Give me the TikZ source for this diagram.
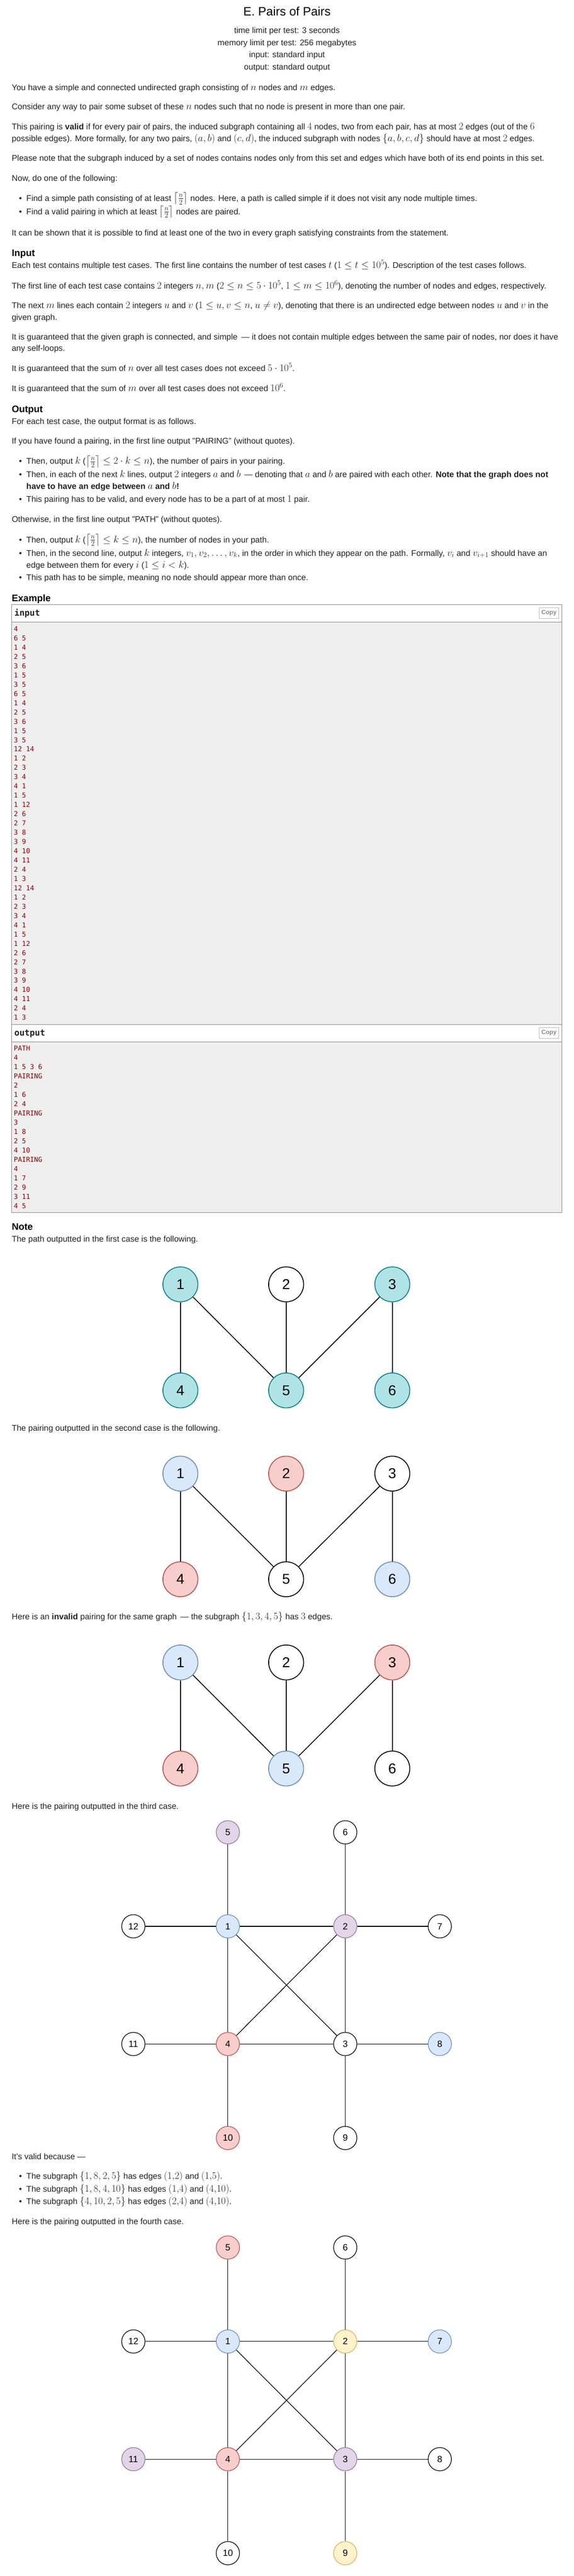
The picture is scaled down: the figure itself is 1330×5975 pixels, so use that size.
\RequirePackage{fix-cm}
\documentclass[tikz,border=0pt]{standalone}
\usepackage{amsmath}
\usepackage{amssymb}
\usepackage[no-math]{fontspec}
\setmainfont{Liberation Sans}[Scale=0.83]
\setmonofont{DejaVu Sans Mono}
\definecolor{ink}{HTML}{222222}
\definecolor{sample}{HTML}{8B0000}
\definecolor{boxline}{HTML}{888888}
\definecolor{boxfill}{HTML}{EFEFEF}
\definecolor{copyline}{HTML}{BBBBBB}
\definecolor{copytext}{HTML}{888888}
\definecolor{tealfill}{HTML}{B0E3E6}
\definecolor{tealline}{HTML}{0E8088}
\definecolor{bluefill}{HTML}{DAE8FC}
\definecolor{blueline}{HTML}{6C8EBF}
\definecolor{redfill}{HTML}{F8CECC}
\definecolor{redline}{HTML}{B85450}
\definecolor{purplefill}{HTML}{E1D5E7}
\definecolor{purpleline}{HTML}{9673A6}
\definecolor{yellowfill}{HTML}{FFF2CC}
\definecolor{yellowline}{HTML}{D6B656}
\tikzset{txt/.style = {anchor = base west, inner sep = 0, text = ink, font = \fontsize{23.1}{27}\selectfont}}
\tikzset{hdr/.style = {anchor = base, inner sep = 0, text = ink, font = \fontsize{23.1}{27}\selectfont}}
\tikzset{ttl/.style = {anchor = base, inner sep = 0, text = black, font = \fontsize{34}{40}\selectfont}}
\tikzset{sect/.style = {anchor = base west, inner sep = 0, text = black, font = \bfseries\fontsize{26.5}{30}\selectfont}}
\tikzset{mono/.style = {anchor = base west, inner sep = 0, text = sample, font = \ttfamily\fontsize{15.6}{21.5}\selectfont}}
\tikzset{monohead/.style = {anchor = base west, inner sep = 0, text = ink, font = \ttfamily\bfseries\fontsize{19.8}{24}\selectfont}}
\tikzset{copybtn/.style = {draw = copyline, line width = 1, text = copytext, inner sep = 0, minimum width = 46, minimum height = 25, font = \bfseries\fontsize{16.9}{20}\selectfont}}
\tikzset{bigvtx/.style = {circle, draw = black, fill = white, line width = 2, minimum size = 81, inner sep = 0, font = \fontsize{39.8}{40}\selectfont}}
\tikzset{smallvtx/.style = {circle, draw = black, fill = white, line width = 1.5, minimum size = 54, inner sep = 0, font = \fontsize{25.3}{26}\selectfont}}
\tikzset{bigedge/.style = {line width = 2}}
\tikzset{smalledge/.style = {line width = 1.5}}
\tikzset{pteal/.style = {fill = tealfill, draw = tealline}}
\tikzset{pblue/.style = {fill = bluefill, draw = blueline}}
\tikzset{pred/.style = {fill = redfill, draw = redline}}
\tikzset{ppurple/.style = {fill = purplefill, draw = purpleline}}
\tikzset{pyellow/.style = {fill = yellowfill, draw = yellowline}}

\begin{document}
\begin{tikzpicture}[x = 1pt, y = -1pt]
    \fill [white] (0, 0) rectangle (1330, 5975);
    \useasboundingbox (0, 0) rectangle (1330, 5975);

    % header
    \node [ttl] (title) at (665, 37) {E. Pairs of Pairs};
    \node [hdr] (tlim) at (665, 76.5) {time limit per test: 3 seconds};
    \node [hdr] (mlim) at (665, 105.5) {memory limit per test: 256 megabytes};
    \node [hdr] (inp) at (665, 133.5) {input: standard input};
    \node [hdr] (outp) at (665, 161.5) {output: standard output};

    % statement
    \node [txt] (s1) at (27, 209.5) {You have a simple and connected undirected graph consisting of $n$ nodes and $m$ edges.};
    \node [txt] (s2) at (27, 254.5) {Consider any way to pair some subset of these $n$ nodes such that no node is present in more than one pair.};
    \node [txt] (s3) at (27, 300.5) {This pairing is \textbf{valid} if for every pair of pairs, the induced subgraph containing all $4$ nodes, two from each pair, has at most $2$ edges (out of the $6$};
    \node [txt] (s4) at (27, 327.5) {possible edges). More formally, for any two pairs, $(a,b)$ and $(c,d)$, the induced subgraph with nodes $\{a,b,c,d\}$ should have at most $2$ edges.};
    \node [txt] (s5) at (27, 373.5) {Please note that the subgraph induced by a set of nodes contains nodes only from this set and edges which have both of its end points in this set.};
    \node [txt] (s6) at (27, 419.5) {Now, do one of the following:};
    \node [txt] (bu1) at (44, 466.5) {\textbullet};
    \node [txt] (s7) at (61, 466.5) {Find a simple path consisting of at least $\left\lceil \frac{n}{2} \right\rceil$ nodes. Here, a path is called simple if it does not visit any node multiple times.};
    \node [txt] (bu2) at (44, 497.5) {\textbullet};
    \node [txt] (s8) at (61, 497.5) {Find a valid pairing in which at least $\left\lceil \frac{n}{2} \right\rceil$ nodes are paired.};
    \node [txt] (s9) at (27, 546.5) {It can be shown that it is possible to find at least one of the two in every graph satisfying constraints from the statement.};

    % input section
    \node [sect] (hin) at (27, 595) {Input};
    \node [txt] (i1) at (27, 622.5) {Each test contains multiple test cases. The first line contains the number of test cases $t$ ($1 \le t \le 10^5$). Description of the test cases follows.};
    \node [txt] (i2) at (27, 669.5) {The first line of each test case contains $2$ integers $n, m$ ($2 \le n \le 5 \cdot 10^5$, $1 \le m \le 10^6$), denoting the number of nodes and edges, respectively.};
    \node [txt] (i3) at (27, 715.5) {The next $m$ lines each contain $2$ integers $u$ and $v$ ($1 \le u, v \le n$, $u \neq v$), denoting that there is an undirected edge between nodes $u$ and $v$ in the};
    \node [txt] (i4) at (27, 742.5) {given graph.};
    \node [txt] (i5) at (27, 788.5) {It is guaranteed that the given graph is connected, and simple \,--- it does not contain multiple edges between the same pair of nodes, nor does it have};
    \node [txt] (i6) at (27, 814.5) {any self-loops.};
    \node [txt] (i7) at (27, 860.5) {It is guaranteed that the sum of $n$ over all test cases does not exceed $5 \cdot 10^5$.};
    \node [txt] (i8) at (27, 907.5) {It is guaranteed that the sum of $m$ over all test cases does not exceed $10^6$.};

    % output section
    \node [sect] (hout) at (27, 956) {Output};
    \node [txt] (o1) at (27, 983.5) {For each test case, the output format is as follows.};
    \node [txt] (o2) at (27, 1029.5) {If you have found a pairing, in the first line output "PAIRING" (without quotes).};
    \node [txt] (bu3) at (44, 1076.5) {\textbullet};
    \node [txt] (o3) at (61, 1076.5) {Then, output $k$ ($\left\lceil \frac{n}{2} \right\rceil \le 2 \cdot k \le n$), the number of pairs in your pairing.};
    \node [txt] (bu4) at (44, 1107.5) {\textbullet};
    \node [txt] (o4) at (61, 1107.5) {Then, in each of the next $k$ lines, output $2$ integers $a$ and $b$ \,--- denoting that $a$ and $b$ are paired with each other. \textbf{Note that the graph does not}};
    \node [txt] (o5) at (61, 1134.5) {\textbf{have to have an edge between $a$ and $b$!}};
    \node [txt] (bu5) at (44, 1164.5) {\textbullet};
    \node [txt] (o6) at (61, 1164.5) {This pairing has to be valid, and every node has to be a part of at most $1$ pair.};
    \node [txt] (o7) at (27, 1211.5) {Otherwise, in the first line output "PATH" (without quotes).};
    \node [txt] (bu6) at (44, 1258.5) {\textbullet};
    \node [txt] (o8) at (61, 1258.5) {Then, output $k$ ($\left\lceil \frac{n}{2} \right\rceil \le k \le n$), the number of nodes in your path.};
    \node [txt] (bu7) at (44, 1289.5) {\textbullet};
    \node [txt] (o9) at (61, 1289.5) {Then, in the second line, output $k$ integers, $v_1, v_2, \ldots, v_k$, in the order in which they appear on the path. Formally, $v_i$ and $v_{i+1}$ should have an};
    \node [txt] (o10) at (61, 1317.5) {edge between them for every $i$ ($1 \le i < k$).};
    \node [txt] (bu8) at (44, 1346.5) {\textbullet};
    \node [txt] (o11) at (61, 1346.5) {This path has to be simple, meaning no node should appear more than once.};

    % example
    \node [sect] (hex) at (27, 1395) {Example};
    \draw [boxline, fill = white] (27, 1402) rectangle (1302, 1442);
    \draw [boxline, fill = boxfill] (27, 1442) rectangle (1302, 2376);
    \draw [boxline, fill = white] (27, 2376) rectangle (1302, 2417);
    \draw [boxline, fill = boxfill] (27, 2417) rectangle (1302, 2812);
    \node [monohead] (inhead) at (33, 1429) {input};
    \node [copybtn] (incopy) at (1272, 1421.5) {Copy};
    \node [monohead] (outhead) at (33, 2403) {output};
    \node [copybtn] (outcopy) at (1272, 2395.5) {Copy};
    \foreach \row [count = \i from 0] in {4, 6 5, 1 4, 2 5, 3 6, 1 5, 3 5, 6 5, 1 4, 2 5, 3 6, 1 5, 3 5, 12 14, 1 2, 2 3, 3 4, 4 1, 1 5, 1 12, 2 6, 2 7, 3 8, 3 9, 4 10, 4 11, 2 4, 1 3, 12 14, 1 2, 2 3, 3 4, 4 1, 1 5, 1 12, 2 6, 2 7, 3 8, 3 9, 4 10, 4 11, 2 4, 1 3}
        \node [mono] (in\i) at (32, {1464.5 + 21.46 * \i}) {\row};
    \foreach \row [count = \i from 0] in {PATH, 4, 1 5 3 6, PAIRING, 2, 1 6, 2 4, PAIRING, 3, 1 8, 2 5, 4 10, PAIRING, 4, 1 7, 2 9, 3 11, 4 5}
        \node [mono] (out\i) at (32, {2437.5 + 21.5 * \i}) {\row};

    % note
    \node [sect] (hnote) at (27, 2853) {Note};
    \node [txt] (n1) at (27, 2880.5) {The path outputted in the first case is the following.};

    \node [bigvtx, pteal] (a1) at (418, 2979) {1};
    \node [bigvtx] (a2) at (663, 2979) {2};
    \node [bigvtx, pteal] (a3) at (909, 2979) {3};
    \node [bigvtx, pteal] (a4) at (418, 3225) {4};
    \node [bigvtx, pteal] (a5) at (663, 3225) {5};
    \node [bigvtx, pteal] (a6) at (909, 3225) {6};
    \draw [bigedge] (a1) -- (a4);
    \draw [bigedge] (a1) -- (a5);
    \draw [bigedge] (a2) -- (a5);
    \draw [bigedge] (a3) -- (a5);
    \draw [bigedge] (a3) -- (a6);

    \node [txt] (n2) at (27, 3318.5) {The pairing outputted in the second case is the following.};

    \node [bigvtx, pblue] (b1) at (418, 3418) {1};
    \node [bigvtx, pred] (b2) at (663, 3418) {2};
    \node [bigvtx] (b3) at (909, 3418) {3};
    \node [bigvtx, pred] (b4) at (418, 3663) {4};
    \node [bigvtx] (b5) at (663, 3663) {5};
    \node [bigvtx, pblue] (b6) at (909, 3663) {6};
    \draw [bigedge] (b1) -- (b4);
    \draw [bigedge] (b1) -- (b5);
    \draw [bigedge] (b2) -- (b5);
    \draw [bigedge] (b3) -- (b5);
    \draw [bigedge] (b3) -- (b6);

    \node [txt] (n3) at (27, 3756.5) {Here is an \textbf{invalid} pairing for the same graph \,--- the subgraph $\{1, 3, 4, 5\}$ has $3$ edges.};

    \node [bigvtx, pblue] (c1) at (418, 3856) {1};
    \node [bigvtx] (c2) at (663, 3856) {2};
    \node [bigvtx, pred] (c3) at (909, 3856) {3};
    \node [bigvtx, pred] (c4) at (418, 4102) {4};
    \node [bigvtx, pblue] (c5) at (663, 4102) {5};
    \node [bigvtx] (c6) at (909, 4102) {6};
    \draw [bigedge] (c1) -- (c4);
    \draw [bigedge] (c1) -- (c5);
    \draw [bigedge] (c2) -- (c5);
    \draw [bigedge] (c3) -- (c5);
    \draw [bigedge] (c3) -- (c6);

    \node [txt] (n4) at (27, 4196.5) {Here is the pairing outputted in the third case.};

    \node [smallvtx, ppurple] (d5) at (528, 4250) {5};
    \node [smallvtx] (d6) at (800, 4250) {6};
    \node [smallvtx] (d12) at (309, 4468) {12};
    \node [smallvtx, pblue] (d1) at (528, 4468) {1};
    \node [smallvtx, ppurple] (d2) at (800, 4468) {2};
    \node [smallvtx] (d7) at (1019, 4468) {7};
    \node [smallvtx] (d11) at (309, 4741) {11};
    \node [smallvtx, pred] (d4) at (528, 4741) {4};
    \node [smallvtx] (d3) at (800, 4741) {3};
    \node [smallvtx, pblue] (d8) at (1019, 4741) {8};
    \node [smallvtx, pred] (d10) at (528, 4959) {10};
    \node [smallvtx] (d9) at (800, 4959) {9};
    \foreach \u/\v in {1/2, 2/3, 3/4, 4/1, 1/5, 1/12, 2/6, 2/7, 3/8, 3/9, 4/10, 4/11, 2/4, 1/3}
        \draw [smalledge] (d\u) -- (d\v);

    \node [txt] (n5) at (27, 5008.5) {It's valid because ---};
    \node [txt] (bu9) at (44, 5054.5) {\textbullet};
    \node [txt] (n6) at (61, 5054.5) {The subgraph $\{1, 8, 2, 5\}$ has edges $(1{,}2)$ and $(1{,}5)$.};
    \node [txt] (bu10) at (44, 5084.5) {\textbullet};
    \node [txt] (n7) at (61, 5084.5) {The subgraph $\{1, 8, 4, 10\}$ has edges $(1{,}4)$ and $(4{,}10)$.};
    \node [txt] (bu11) at (44, 5112.5) {\textbullet};
    \node [txt] (n8) at (61, 5112.5) {The subgraph $\{4, 10, 2, 5\}$ has edges $(2{,}4)$ and $(4{,}10)$.};
    \node [txt] (n9) at (27, 5159.5) {Here is the pairing outputted in the fourth case.};

    \node [smallvtx, pred] (e5) at (528, 5213) {5};
    \node [smallvtx] (e6) at (800, 5213) {6};
    \node [smallvtx] (e12) at (309, 5431) {12};
    \node [smallvtx, pblue] (e1) at (528, 5431) {1};
    \node [smallvtx, pyellow] (e2) at (800, 5431) {2};
    \node [smallvtx, pblue] (e7) at (1019, 5431) {7};
    \node [smallvtx, ppurple] (e11) at (309, 5704) {11};
    \node [smallvtx, pred] (e4) at (528, 5704) {4};
    \node [smallvtx, ppurple] (e3) at (800, 5704) {3};
    \node [smallvtx] (e8) at (1019, 5704) {8};
    \node [smallvtx] (e10) at (528, 5922) {10};
    \node [smallvtx, pyellow] (e9) at (800, 5922) {9};
    \foreach \u/\v in {1/2, 2/3, 3/4, 4/1, 1/5, 1/12, 2/6, 2/7, 3/8, 3/9, 4/10, 4/11, 2/4, 1/3}
        \draw [smalledge] (e\u) -- (e\v);
\end{tikzpicture}
\end{document}
